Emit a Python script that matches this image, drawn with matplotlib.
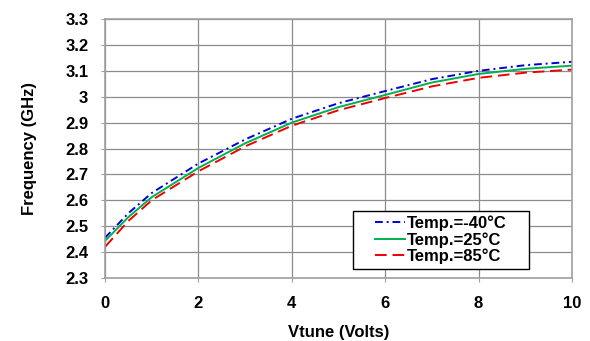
import matplotlib
matplotlib.use('Agg')
from matplotlib import pyplot as plt
from matplotlib.patches import Rectangle

plt.rcParams['font.family'] = ['Liberation Sans', 'DejaVu Sans']
plt.rcParams['font.weight'] = 'bold'

vtune = [0, 0.5, 1, 2, 3, 4, 5, 6, 7, 8, 9, 10]
freq_m40 = [2.455, 2.55, 2.628, 2.742, 2.835, 2.915, 2.975, 3.022, 3.068, 3.100, 3.122, 3.135]
freq_25 = [2.443, 2.535, 2.612, 2.725, 2.820, 2.900, 2.960, 3.007, 3.055, 3.088, 3.108, 3.120]
freq_85 = [2.420, 2.520, 2.600, 2.712, 2.808, 2.888, 2.948, 2.995, 3.040, 3.073, 3.093, 3.105]
labels = ['Temp.=-40°C', 'Temp.=25°C', 'Temp.=85°C']

fig = plt.figure(figsize=(5.9, 3.41), dpi=100)
ax = fig.add_axes([0.178, 0.185, 0.7915, 0.759])

ax.plot(vtune, freq_m40, color='#0000dd', linestyle=(0, (4, 2, 1, 2)), lw=1.4, label=labels[0])
ax.plot(vtune, freq_25, color='#00b050', linestyle='solid', lw=1.4, label=labels[1])
ax.plot(vtune, freq_85, color='#ee0000', linestyle=(0, (6, 3)), lw=1.4, label=labels[2])

ax.set_xlim(0, 10)
ax.set_ylim(2.3, 3.3)
ax.set_xticks([0, 2, 4, 6, 8, 10])
ax.set_yticks([2.3, 2.4, 2.5, 2.6, 2.7, 2.8, 2.9, 3.0, 3.1, 3.2, 3.3])
ax.set_yticklabels(['2.3', '2.4', '2.5', '2.6', '2.7', '2.8', '2.9', '3', '3.1', '3.2', '3.3'])
ax.grid(True, color='#8c8c8c', lw=0.9)
for s in ax.spines.values():
    s.set_color('#a0a0a0')
    s.set_linewidth(1.2)
ax.tick_params(length=3, color='#a0a0a0', labelsize=12, pad=10)
ax.tick_params(axis='y', pad=9)
for t in ax.get_xticklabels() + ax.get_yticklabels():
    t.set_fontweight('bold')

ax.set_xlabel('Vtune (Volts)', fontsize=12, fontweight='bold', labelpad=10)
ax.set_ylabel('Frequency (GHz)', fontsize=12, fontweight='bold', labelpad=20)

# legend box drawn separately so the entries sit centred inside it
box = Rectangle((0.531, 0.035), 0.377, 0.224, transform=ax.transAxes,
                facecolor='white', edgecolor='black', lw=1.0, zorder=4)
ax.add_patch(box)
leg = ax.legend(loc='center', bbox_to_anchor=(0.7195, 0.147), frameon=False,
                handlelength=1.8, handletextpad=0.1, borderpad=0.2, labelspacing=0.05,
                prop={'size': 12, 'weight': 'bold'})
leg.set_zorder(5)

fig.savefig('out.png', dpi=100)
